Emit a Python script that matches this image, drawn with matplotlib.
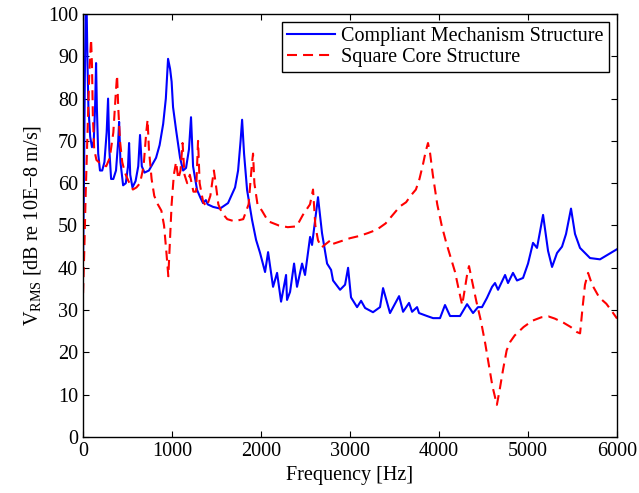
import numpy as np
import matplotlib
matplotlib.use("Agg")
import matplotlib.pyplot as plt

# blue curve: compliant mechanism structure (Hz, dB)
cm_freq = [0, 10, 20, 30, 38, 50, 60, 80, 100, 120, 135, 146, 155, 170, 190, 215, 240, 265, 281, 295,
           315, 340, 370, 395, 405, 420, 450, 480, 505, 517, 530, 555, 590, 620, 640, 660, 690, 740,
           780, 820, 860, 900, 930, 955, 978, 995, 1011, 1045, 1090, 1124, 1157, 1190, 1213, 1236,
           1281, 1320, 1348, 1380, 1400, 1461, 1539, 1629, 1708, 1742, 1770, 1787, 1809, 1843, 1899,
           1944, 1989, 2045, 2079, 2135, 2180, 2225, 2281, 2292, 2326, 2371, 2404, 2461, 2494, 2551,
           2573, 2640, 2685, 2742, 2787, 2809, 2888, 2944, 2978, 3011, 3079, 3124, 3169, 3258, 3337,
           3371, 3449, 3551, 3596, 3663, 3697, 3753, 3775, 3865, 3933, 4011, 4067, 4124, 4236, 4315,
           4382, 4438, 4483, 4539, 4596, 4629, 4663, 4742, 4775, 4831, 4876, 4944, 5000, 5056, 5101,
           5169, 5225, 5270, 5326, 5382, 5427, 5483, 5528, 5584, 5697, 5809, 6000]
cm_db = [42, 60, 85, 102, 104, 88, 78, 71, 68.5, 70, 78, 88.4, 78, 67, 63, 63, 65, 72, 80, 68,
         61, 61, 63, 70, 74.5, 65, 59.5, 60, 64, 69.5, 62, 59, 60.5, 64, 71.4, 64, 62.5, 63,
         64.5, 66, 69, 74, 80, 89.4, 87, 84, 78, 72.6, 66, 63, 63.6, 68, 75.6, 64,
         58.4, 56.5, 55.3, 56, 55, 54.4, 54, 55.3, 59, 63, 70, 75, 67, 58.4, 51.3,
         46.6, 43.5, 39, 43.7, 35.5, 38.8, 32, 38.3, 32.4, 34.3, 41, 35.5, 41, 38.3, 47.3,
         45.4, 56.7, 48.2, 41, 39.5, 37, 34.8, 36, 40, 33, 30.7, 32.2, 30.5, 29.5, 30.7,
         35.2, 29.3, 33.3, 29.6, 31.7, 29.6, 30.7, 29.3, 28.6, 28.1, 28.1, 31.2, 28.6, 28.6, 31.4,
         29.3, 30.7, 30.7, 32.9, 35.5, 36.4, 34.8, 38.3, 36.4, 38.8, 37, 37.6, 41, 45.9, 44.7,
         52.5, 44, 40.2, 43.5, 45, 48, 54, 48, 44.7, 42.3, 42, 44.4]

# red dashed curve: square core structure (Hz, dB)
sq_freq = [0, 15, 30, 50, 70, 90, 100, 110, 125, 150, 200, 260, 300, 340, 370, 382, 395, 415, 440,
           470, 510, 560, 600, 640, 680, 710, 725, 740, 770, 800, 840, 880, 910, 935, 958, 975, 995,
           1020, 1045, 1070, 1095, 1118, 1140, 1170, 1200, 1240, 1270, 1292, 1310, 1350, 1390, 1430,
           1470, 1490, 1520, 1560, 1620, 1700, 1800, 1860, 1895, 1910, 1925, 1960, 2010, 2080, 2200,
           2300, 2400, 2470, 2550, 2584, 2610, 2640, 2680, 2720, 2780, 2800, 2900, 3000, 3100, 3200,
           3300, 3400, 3500, 3560, 3630, 3680, 3740, 3780, 3820, 3850, 3876, 3900, 3930, 3980, 4030,
           4080, 4130, 4180, 4220, 4260, 4290, 4320, 4337, 4370, 4420, 4470, 4520, 4560, 4600, 4650,
           4680, 4720, 4760, 4800, 4850, 4950, 5050, 5150, 5230, 5300, 5400, 5480, 5550, 5585, 5610,
           5640, 5675, 5720, 5800, 5880, 5950, 6000]
sq_db = [34, 45, 58, 72, 86, 94, 88, 76, 68, 65.5, 64.5, 64, 66, 72, 82, 85.5, 78, 70, 65,
         62.5, 60.5, 58.5, 59, 60, 64, 72, 75, 68, 61, 57, 55, 53.5, 50, 44, 38, 46, 55,
         62, 65, 61, 63, 69.5, 62, 60, 62, 58, 58, 70, 60, 55.5, 54.5, 57,
         63, 60, 55, 53, 51.5, 51, 51.5, 55, 64, 67, 60, 55, 53.5, 51, 50,
         49.6, 49.8, 52.5, 55, 58.5, 50, 46.5, 44.8, 45.5, 46.5, 45.6, 46.3, 47, 47.5, 48.2,
         49, 50.5, 53, 54.5, 55.5, 57, 58.5, 61, 64.5, 67.5, 69.5, 67, 62, 55, 50,
         46, 42.5, 39, 35, 31.2, 35, 39, 40.4, 37, 32, 27.5, 22, 17, 12, 7.6,
         11, 16, 20.5, 22.5, 24, 26, 27.5, 28.3, 28.5, 28, 27, 26, 24.8, 24.5, 30,
         36, 38.8, 36, 33, 31.5, 29.5, 28]

plt.rcParams['font.family'] = ['Liberation Serif', 'DejaVu Serif']
plt.rcParams['mathtext.fontset'] = 'custom'
plt.rcParams['mathtext.rm'] = 'Liberation Serif'
fs = 14.5

fig = plt.figure(figsize=(6.39, 4.93), dpi=100)
ax = fig.add_axes([0.130, 0.1136, 0.8356, 0.858])

ax.plot(cm_freq, cm_db, color='#0000ff', lw=1.5, label='Compliant Mechanism Structure')
ax.plot(sq_freq, sq_db, color='#ff0000', lw=1.5, linestyle=(0, (4.8, 2.9)),
        label='Square Core Structure')

ax.set_xlim(0, 6000)
ax.set_ylim(0, 100)
ax.set_xticks(np.arange(0, 6001, 1000))
ax.set_yticks(np.arange(0, 101, 10))
ax.tick_params(direction='in', top=True, right=True, length=4, width=0.8, labelsize=fs)
for s in ax.spines.values():
    s.set_linewidth(1.0)

ax.set_xlabel('Frequency [Hz]', fontsize=fs)
ax.set_ylabel(r'V$_{\mathrm{RMS}}$ [dB re 10E−8 m/s]', fontsize=fs)

leg = ax.legend(loc='upper right', fontsize=fs, handlelength=2.4, borderpad=0.25,
                labelspacing=0.1, handletextpad=0.3, borderaxespad=0.4, fancybox=False)
leg.get_frame().set_edgecolor('black')
leg.get_frame().set_linewidth(1.0)
leg.get_frame().set_alpha(1)

fig.savefig('out.png', dpi=100)
